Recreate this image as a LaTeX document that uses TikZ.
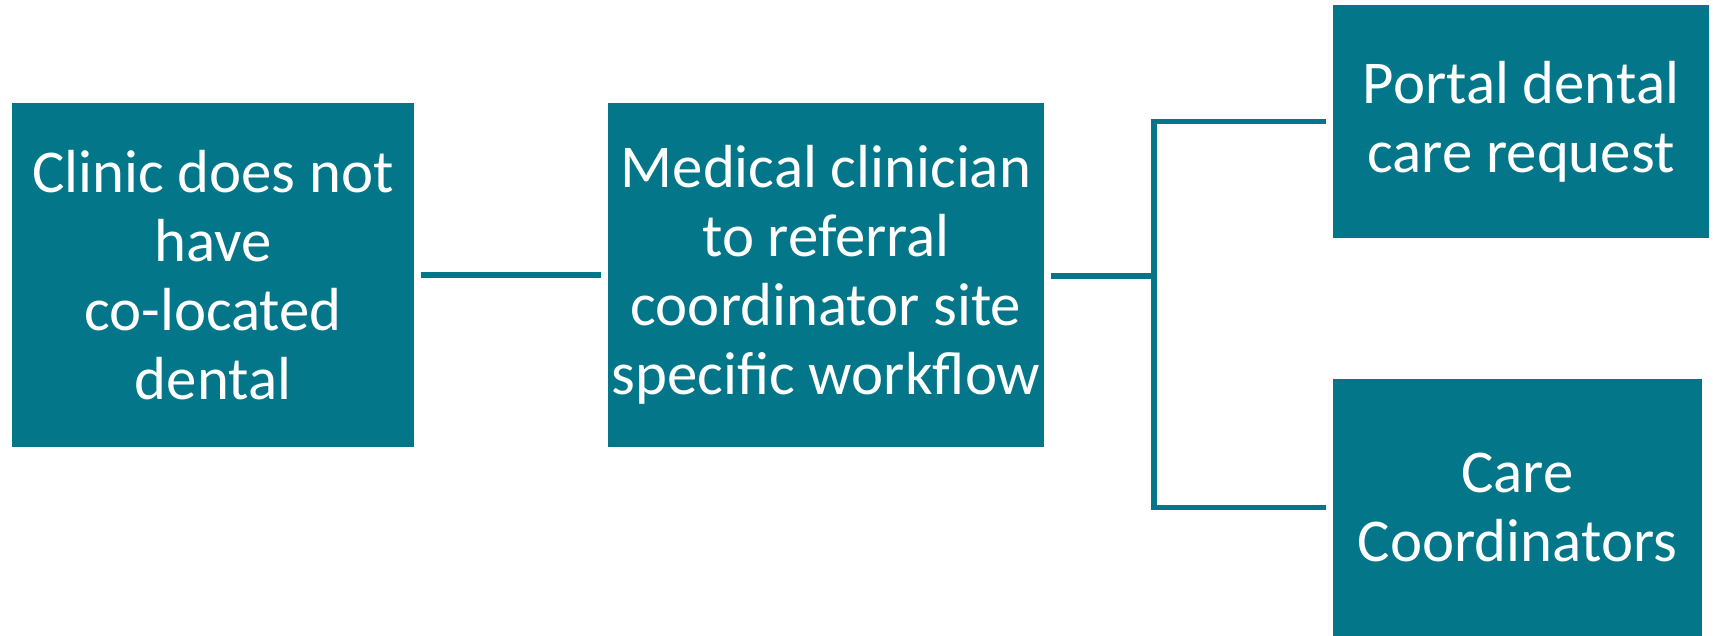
\documentclass[tikz,border=0pt]{standalone}
\usepackage{fontspec}
\setmainfont{Carlito}
\usepackage{tikz}
\definecolor{tealbox}{RGB}{3,119,137}

\begin{document}
\begin{tikzpicture}[
  box/.style={fill=tealbox, text=white, align=center, inner sep=0pt,
    font=\fontsize{17.3}{19.6}\selectfont},
  link/.style={draw=tealbox, line width=1.6pt, shorten <=0.06cm, shorten >=0.06cm}]
\useasboundingbox (0,0) rectangle (17.13,6.36);

\node[box, minimum width=4.02cm, minimum height=3.44cm] (clinic) at (2.13,3.61) {Clinic does not\\have\\co-located\\dental};
\node[box, minimum width=4.36cm, minimum height=3.44cm] (medical) at (8.26,3.61) {Medical clinician\\to referral\\coordinator site\\specific workflow};
\node[box, minimum width=3.76cm, minimum height=2.33cm] (portal) at (15.21,5.145) {Portal dental\\care request};
\node[box, minimum width=3.69cm, minimum height=2.57cm] (care) at (15.175,1.285) {Care\\Coordinators};
\coordinate (split) at (11.54,3.60);

\draw[link] (clinic) -- (medical);
\draw[link, shorten >=0pt] (medical.east |- split) -- (split);
\draw[link] (portal.west) -| (split) |- (care.west);
\end{tikzpicture}
\end{document}
